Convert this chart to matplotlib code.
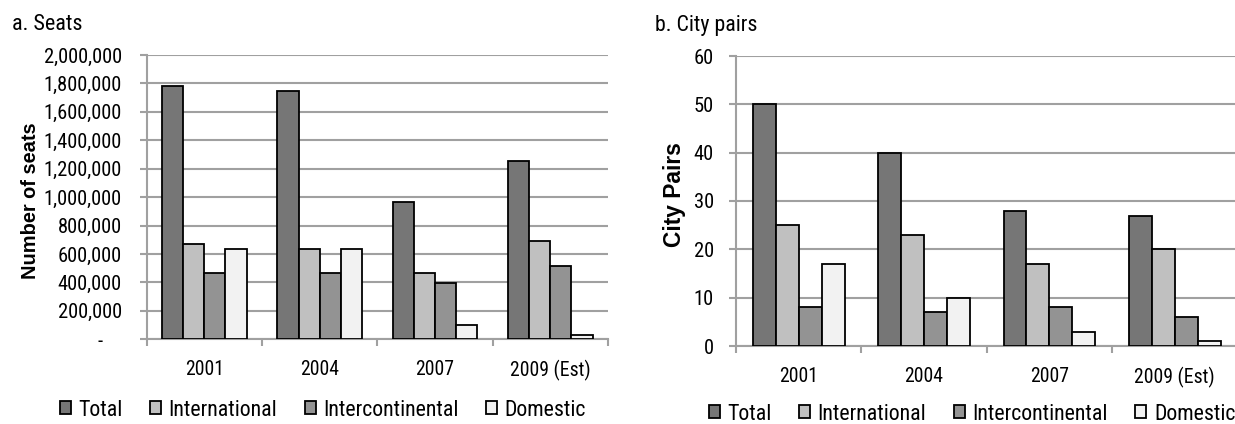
import matplotlib
matplotlib.use("Agg")
import matplotlib.pyplot as plt
from matplotlib.ticker import FuncFormatter

# ---- data ----
years = ["2001", "2004", "2007", "2009 (Est)"]
series = ["Total", "International", "Intercontinental", "Domestic"]

seats_total = [1780000, 1745000, 968000, 1252000]
seats_international = [668000, 636000, 468000, 690000]
seats_intercontinental = [468000, 463000, 395000, 519000]
seats_domestic = [636000, 636000, 103000, 30000]

pairs_total = [50, 40, 28, 27]
pairs_international = [25, 23, 17, 20]
pairs_intercontinental = [8, 7, 8, 6]
pairs_domestic = [17, 10, 3, 1]

colors = ["#767676", "#c0c0c0", "#939393", "#f2f2f2"]
GRID = "#a0a0a0"
NARROW = "Roboto Condensed"
WIDE = "Liberation Sans"
plt.rcParams["font.family"] = [NARROW, "DejaVu Sans"]

W, H = 1235, 424
fig = plt.figure(figsize=(W / 100, H / 100), dpi=100)
renderer = fig.canvas.get_renderer()


def fit_size(s, target_px, family=NARROW, **kw):
    # font size that makes the string about target_px wide
    t = fig.text(0, 0, s, fontsize=10, family=family, **kw)
    w = t.get_window_extent(renderer).width
    t.remove()
    return 10 * target_px / w


TICK = fit_size("2,000,000", 78)
XLAB = fit_size("2009 (Est)", 80)
LEG = fit_size("Domestic", 81)
TITLE_A = fit_size("a. Seats", 70)
TITLE_B = fit_size("b. City pairs", 102)
YLAB_A = fit_size("Number of seats", 157, family=WIDE, fontweight="bold")
YLAB_B = fit_size("City Pairs", 105, family=WIDE, fontweight="bold")


def px_axes(x0, x1, y0, y1):
    # pixel box -> figure fraction
    return fig.add_axes([x0 / W, 1 - y1 / H, (x1 - x0) / W, (y1 - y0) / H])


def draw_panel(ax, data, ymax, ystep, fmt, ylab_pad):
    width = 0.183
    x = list(range(len(years)))
    bars = []
    for i, vals in enumerate(data):
        pos = [xi + (i - 1.5) * width for xi in x]
        b = ax.bar(pos, vals, width, color=colors[i], edgecolor="black",
                   linewidth=1.3, label=series[i], zorder=3)
        bars.append(b)
    ax.set_xlim(-0.5, len(years) - 0.5)
    ax.set_ylim(0, ymax)
    ax.set_yticks([ystep * k for k in range(int(round(ymax / ystep)) + 1)])
    ax.yaxis.set_major_formatter(FuncFormatter(fmt))
    ax.grid(axis="y", color=GRID, linewidth=1.5, zorder=0)
    for s in ["top", "right"]:
        ax.spines[s].set_visible(False)
    for s in ["left", "bottom"]:
        ax.spines[s].set_color(GRID)
        ax.spines[s].set_linewidth(1.5)
    # category boundaries as major ticks, labels on minor ticks
    ax.set_xticks([k - 0.5 for k in range(len(years) + 1)])
    ax.set_xticklabels([])
    ax.set_xticks(x, minor=True)
    ax.set_xticklabels(years, minor=True, fontsize=XLAB)
    ax.tick_params(axis="x", which="major", length=5, width=1.5, color=GRID, direction="out")
    ax.tick_params(axis="x", which="minor", length=0, pad=15)
    ax.tick_params(axis="y", length=5, width=1.5, color=GRID, labelsize=TICK, pad=ylab_pad)
    return bars


def set_ylab(ax, text, size, xc, yc):
    ax.set_ylabel(text, fontsize=size, family=WIDE, fontweight="bold")
    ax.yaxis.set_label_coords(xc / W, 1 - yc / H, transform=fig.transFigure)
    ax.yaxis.label.set_verticalalignment("center")


def seats_fmt(v, pos):
    if v == 0:
        return "-    "
    return "{:,.0f}".format(v)


def pairs_fmt(v, pos):
    return "{:.0f}".format(v)


# a. Seats
ax1 = px_axes(146.7, 608, 55, 339.3)
bars1 = draw_panel(ax1, [seats_total, seats_international, seats_intercontinental, seats_domestic],
                   2000000, 200000, seats_fmt, 13)
set_ylab(ax1, "Number of seats", YLAB_A, 31, 201)
fig.text(12 / W, 1 - 25 / H, "a. Seats", fontsize=TITLE_A, va="center", ha="left")

# b. City pairs
ax2 = px_axes(736, 1237.5, 56, 346)
bars2 = draw_panel(ax2, [pairs_total, pairs_international, pairs_intercontinental, pairs_domestic],
                   60, 10, pairs_fmt, 11)
set_ylab(ax2, "City Pairs", YLAB_B, 674, 195)
fig.text(655 / W, 1 - 25 / H, "b. City pairs", fontsize=TITLE_B, va="center", ha="left")

# legends along the bottom
sq = 11 / (LEG * 100 / 72)
leg_kw = dict(ncol=4, frameon=False, fontsize=LEG, handlelength=sq, handleheight=sq,
              handletextpad=0.35, columnspacing=1.25, borderaxespad=0, borderpad=0)
fig.legend(bars1, series, loc="center", bbox_to_anchor=(323 / W, 1 - 410 / H), **leg_kw)
fig.legend(bars2, series, loc="center", bbox_to_anchor=(972 / W, 1 - 414 / H), **leg_kw)

fig.savefig("out.png", dpi=100)
